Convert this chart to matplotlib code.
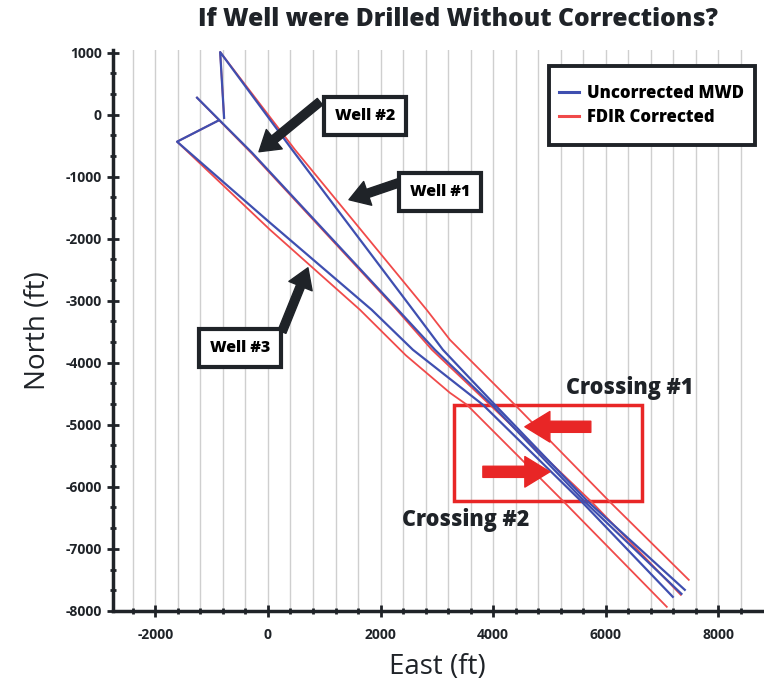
import matplotlib.pyplot as plt
from matplotlib.ticker import MultipleLocator, AutoMinorLocator
from matplotlib.patches import Rectangle

plt.rcParams['font.family'] = ['Open Sans', 'DejaVu Sans']
plt.rcParams['axes.unicode_minus'] = False

# well paths, East / North in ft
w1_mwd_e = [-780, -850, 430, 2575, 3108, 4032, 5690, 7407]
w1_mwd_n = [-50, 1010, -565, -3145, -3790, -4677, -6242, -7661]
w1_fdir_e = [-780, -850, 480, 2819, 3233, 3410, 4387, 6075, 7478]
w1_fdir_n = [-50, 1010, -565, -3145, -3629, -3790, -4677, -6242, -7500]

w2_mwd_e = [-1261, -284, 2309, 2966, 3979, 5631, 7348]
w2_mwd_n = [274, -613, -3145, -3790, -4677, -6242, -7726]
w2_fdir_e = [-1261, -284, 2286, 2913, 3943, 5750, 7336]
w2_fdir_n = [274, -629, -3145, -3790, -4677, -6242, -7742]

w3_mwd_e = [-888, -1616, 36, 1842, 2575, 3819, 5577, 7194]
w3_mwd_n = [-97, -435, -1742, -3145, -3790, -4677, -6242, -7774]
w3_fdir_e = [-888, -1616, 36, 1634, 2450, 3233, 3535, 5240, 7087]
w3_fdir_n = [-97, -435, -1855, -3145, -3880, -4484, -4677, -6226, -7935]

blue = '#3f4fb0'
red = '#f04a4a'
dark = '#1f2328'

fig = plt.figure(figsize=(7.64, 6.81), dpi=100)
ax = fig.add_axes([0.148, 0.103, 0.849, 0.824])

for e, n in [(w1_fdir_e, w1_fdir_n), (w2_fdir_e, w2_fdir_n), (w3_fdir_e, w3_fdir_n)]:
    ax.plot(e, n, color=red, lw=1.3)
for e, n in [(w1_mwd_e, w1_mwd_n), (w2_mwd_e, w2_mwd_n), (w3_mwd_e, w3_mwd_n)]:
    ax.plot(e, n, color=blue, lw=1.6)

# legend: frameless, with its own box
lb, = ax.plot([], [], color=blue, lw=2.2)
lr, = ax.plot([], [], color=red, lw=2.2)
ax.add_patch(Rectangle((0.672, 0.831), 0.317, 0.1405, transform=ax.transAxes,
                       fc='white', ec=dark, lw=2.8, zorder=5, clip_on=False))
leg = ax.legend([lb, lr], ['Uncorrected MWD', 'FDIR Corrected'], loc='center',
                bbox_to_anchor=(0.8305, 0.901), frameon=False, handlelength=1.2,
                handletextpad=0.5, borderpad=0.2, labelspacing=0.45,
                prop={'weight': 'heavy', 'size': 12})
leg.set_zorder(6)

ax.set_xlim(-2753, 8774)
ax.set_ylim(-8000, 1048)
ax.xaxis.set_major_locator(MultipleLocator(2000))
ax.xaxis.set_minor_locator(MultipleLocator(400))
ax.yaxis.set_major_locator(MultipleLocator(1000))
ax.yaxis.set_minor_locator(AutoMinorLocator(3))
ax.grid(which='both', axis='x', color='#cfcfcf', lw=1)
ax.set_axisbelow(True)

for s in ['top', 'right']:
    ax.spines[s].set_visible(False)
for s in ['left', 'bottom']:
    ax.spines[s].set_linewidth(2.5)
    ax.spines[s].set_color(dark)
ax.tick_params(which='major', direction='inout', length=9, width=2, color=dark,
               labelsize=10, labelcolor=dark)
ax.tick_params(which='minor', direction='inout', length=5, width=2, color=dark)
for t in ax.get_xticklabels() + ax.get_yticklabels():
    t.set_fontweight('bold')
ax.tick_params(axis='x', pad=8)

ax.set_xlabel('East (ft)', fontsize=20, color=dark, labelpad=8)
ax.set_ylabel('North (ft)', fontsize=20, color=dark, labelpad=10)
fig.text(0.6, 0.972, 'If Well were Drilled Without Corrections?', ha='center', va='center',
         fontsize=17.7, fontweight='heavy', color=dark)

box = dict(boxstyle='square,pad=0.68', fc='white', ec=dark, lw=3)
arrow = dict(arrowstyle='simple,head_length=0.75,head_width=0.95,tail_width=0.32',
             color=dark, shrinkA=0, shrinkB=0, mutation_scale=19)
ax.annotate('', xy=(-160, -597), xytext=(924, 210), arrowprops=arrow)
ax.annotate('', xy=(1439, -1371), xytext=(2327, -1097), arrowprops=arrow)
ax.annotate('', xy=(710, -2468), xytext=(249, -3500), arrowprops=arrow)
ax.text(1723, -16, 'Well #2', ha='center', va='center', fontsize=11.5, fontweight='heavy',
        color='black', bbox=box)
ax.text(3055, -1242, 'Well #1', ha='center', va='center', fontsize=11.5, fontweight='heavy',
        color='black', bbox=box)
ax.text(-497, -3758, 'Well #3', ha='center', va='center', fontsize=11.5, fontweight='heavy',
        color='black', bbox=box)

ax.add_patch(Rectangle((3304, -6226), 3339, 1549, fill=False, ec='#e82626', lw=2.5))
red_arrow = dict(arrowstyle='simple,head_length=0.9,head_width=1.1,tail_width=0.4',
                 color='#e82626', shrinkA=0, shrinkB=0, mutation_scale=20)
ax.annotate('', xy=(4565, -5032), xytext=(5737, -5032), arrowprops=red_arrow)
ax.annotate('', xy=(5009, -5758), xytext=(3819, -5758), arrowprops=red_arrow)
ax.text(6430, -4403, 'Crossing #1', ha='center', va='center', fontsize=15.5,
        fontweight='heavy', color=dark)
ax.text(3517, -6532, 'Crossing #2', ha='center', va='center', fontsize=15.5,
        fontweight='heavy', color=dark)

plt.savefig('out.png', dpi=100)
